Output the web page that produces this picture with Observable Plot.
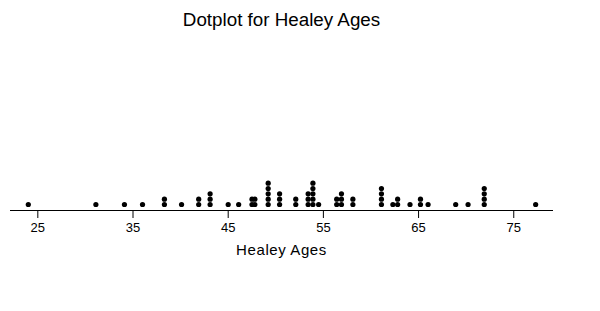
<!DOCTYPE html>
<html>
<head>
<meta charset="utf-8">
<script src="https://cdn.jsdelivr.net/npm/d3@7"></script>
<script src="https://cdn.jsdelivr.net/npm/@observablehq/plot@0.6"></script>
<style>
  html, body { margin: 0; padding: 0; background: #fff; }
  svg { display: block; }
  .xlabel text { letter-spacing: 0.6px; }
</style>
</head>
<body>
<div id="chart"></div>
<script>
const titleText = "Dotplot for Healey Ages";
const xLabel = "Healey Ages";
const tickValues = [25, 35, 45, 55, 65, 75];
// dot column positions and number of stacked dots
const ages = [24.0, 31.1, 34.1, 36.0, 38.3, 40.1, 41.9, 43.1, 45.0, 46.1, 47.5, 47.8, 49.2, 50.4, 52.1, 53.4, 53.9, 54.5, 56.4, 56.9, 58.1, 61.1, 62.3, 62.8, 64.1, 65.2, 66.0, 68.9, 70.2, 71.9, 77.3];
const counts = [1, 1, 1, 1, 2, 1, 2, 3, 1, 1, 2, 2, 5, 3, 2, 3, 5, 1, 2, 3, 2, 4, 1, 2, 1, 2, 1, 1, 1, 4, 1];

const dots = [];
ages.forEach((a, i) => {
  for (let k = 0; k < counts[i]; k++) dots.push({age: a, level: k});
});

const font = "'Liberation Sans', Arial, sans-serif";

const chart = Plot.plot({
  width: 600,
  height: 311,
  marginLeft: 10,
  marginRight: 48,
  marginTop: 30,
  marginBottom: 101,
  style: {fontFamily: font, background: "#fff", color: "#000"},
  x: {domain: [22.13, 79.07], ticks: tickValues},
  y: {domain: [-1.125, 32.625], axis: null},
  marks: [
    Plot.frame({anchor: "bottom", stroke: "#000", strokeWidth: 1}),
    Plot.axisX({ticks: tickValues, tickSize: 8, tickPadding: 4, fontSize: 13, label: null, stroke: "#000", fill: "#000"}),
    Plot.dot(dots, {x: "age", y: "level", r: 2.6, fill: "#000", stroke: null}),
    Plot.text([titleText], {frameAnchor: "top", dy: -17.8, fontSize: 18.8, fill: "#000", textAnchor: "middle"}),
    Plot.text([xLabel], {frameAnchor: "bottom", dy: 44, fontSize: 15, fill: "#000", textAnchor: "middle", className: "xlabel"})
  ]
});
document.getElementById("chart").appendChild(chart);
</script>
</body>
</html>
